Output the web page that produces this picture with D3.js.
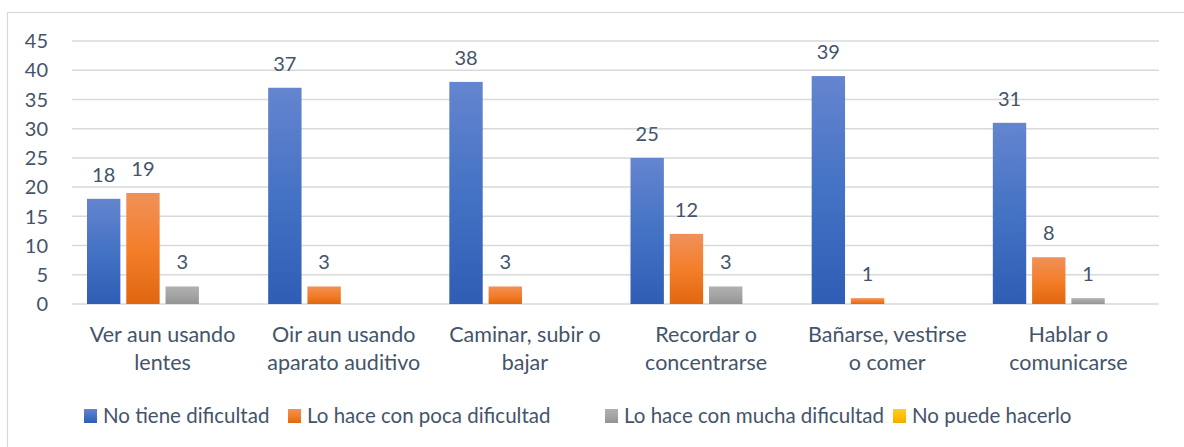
<!DOCTYPE html>
<meta charset="utf-8">
<title>Dificultades</title>
<style>
body { margin: 0; background: #fff; }
svg { display: block; }
text { font-family: Lato, "Open Sans", sans-serif; fill: #44546A; }
</style>
<svg width="1184" height="447"></svg>
<script src="https://d3js.org/d3.v7.min.js"></script>
<script>

// data
var categories = [
  ["Ver aun usando", "lentes"],
  ["Oir aun usando", "aparato auditivo"],
  ["Caminar, subir o", "bajar"],
  ["Recordar o", "concentrarse"],
  ["Bañarse, vestirse", "o comer"],
  ["Hablar o", "comunicarse"]
];
var series = ["No tiene dificultad", "Lo hace con poca dificultad", "Lo hace con mucha dificultad", "No puede hacerlo"];
var noTiene = [18, 37, 38, 25, 39, 31];
var poca = [19, 3, 3, 12, 1, 8];
var mucha = [3, 0, 0, 3, 0, 1];
var noPuede = [0, 0, 0, 0, 0, 0];
var yTicks = [0, 5, 10, 15, 20, 25, 30, 35, 40, 45];

var values = [noTiene, poca, mucha, noPuede];
var colors = [
  ["#6585CF", "#4472C4", "#2F5DB5"],
  ["#F0915A", "#F47E2A", "#E0670F"],
  ["#B0B0B0", "#A5A5A5", "#939393"],
  ["#FFCA33", "#FFC000", "#EBB000"]
];

var svg = d3.select("svg");

// frame
svg.append("rect")
    .attr("x", 7.5).attr("y", 12.5)
    .attr("width", 1200).attr("height", 500)
    .style("fill", "none").style("stroke", "#D9D9D9").style("stroke-width", 1.2);

var defs = svg.append("defs");
colors.forEach(function(c, i) {
  var g = defs.append("linearGradient").attr("id", "grad" + i)
      .attr("x1", 0).attr("y1", 0).attr("x2", 0).attr("y2", 1);
  g.append("stop").attr("offset", "0%").attr("stop-color", c[0]);
  g.append("stop").attr("offset", "50%").attr("stop-color", c[1]);
  g.append("stop").attr("offset", "100%").attr("stop-color", c[2]);
});

var plotL = 72, plotR = 1159, plotT = 41, plotB = 304;

var y = d3.scaleLinear().domain([0, 45]).range([plotB, plotT]);
var x0 = d3.scaleBand().domain(d3.range(categories.length)).range([plotL, plotR]);
var x1 = d3.scaleBand().domain(d3.range(series.length))
    .range([15, x0.bandwidth() - 15]).paddingInner(0.15);

// grid
svg.append("g").selectAll("line")
  .data(yTicks)
  .enter().append("line")
    .attr("x1", plotL).attr("x2", plotR)
    .attr("y1", function(d) { return y(d); })
    .attr("y2", function(d) { return y(d); })
    .style("stroke", "#D9D9D9").style("stroke-width", 1.5);

svg.append("g").selectAll("text")
  .data(yTicks)
  .enter().append("text")
    .attr("x", 48)
    .attr("y", function(d) { return y(d); })
    .attr("dy", "0.36em")
    .style("text-anchor", "end")
    .style("font-size", "20px")
    .text(function(d) { return d; });

// bars
var groups = svg.append("g").selectAll("g")
  .data(categories)
  .enter().append("g")
    .attr("transform", function(d, i) { return "translate(" + x0(i) + ",0)"; });

groups.each(function(cat, ci) {
  var g = d3.select(this);
  var rows = series.map(function(s, si) { return { s: si, v: values[si][ci] }; })
      .filter(function(d) { return d.v > 0; });
  g.selectAll("rect")
    .data(rows)
    .enter().append("rect")
      .attr("x", function(d) { return x1(d.s); })
      .attr("y", function(d) { return y(d.v); })
      .attr("width", x1.bandwidth())
      .attr("height", function(d) { return y(0) - y(d.v); })
      .style("fill", function(d) { return "url(#grad" + d.s + ")"; });
  g.selectAll("text.val")
    .data(rows)
    .enter().append("text")
      .attr("class", "val")
      .attr("x", function(d) { return x1(d.s) + x1.bandwidth() / 2; })
      .attr("y", function(d) { return y(d.v) - 17; })
      .style("text-anchor", "middle")
      .style("font-size", "20px")
      .text(function(d) { return d.v; });
  g.selectAll("text.cat")
    .data(cat)
    .enter().append("text")
      .attr("class", "cat")
      .attr("x", x0.bandwidth() / 2)
      .attr("y", function(d, i) { return 342 + i * 28; })
      .style("text-anchor", "middle")
      .style("font-size", "21.5px")
      .text(function(d) { return d; });
});

// legend
var legendX = [84, 288, 605, 893];
var legend = svg.append("g").selectAll("g")
  .data(series)
  .enter().append("g")
    .attr("transform", function(d, i) { return "translate(" + legendX[i] + ",409)"; });
legend.append("rect")
    .attr("width", 13).attr("height", 14)
    .style("fill", function(d, i) { return "url(#grad" + i + ")"; });
legend.append("text")
    .attr("x", 19).attr("y", 14)
    .style("font-size", "20.5px")
    .text(function(d) { return d; });

</script>
